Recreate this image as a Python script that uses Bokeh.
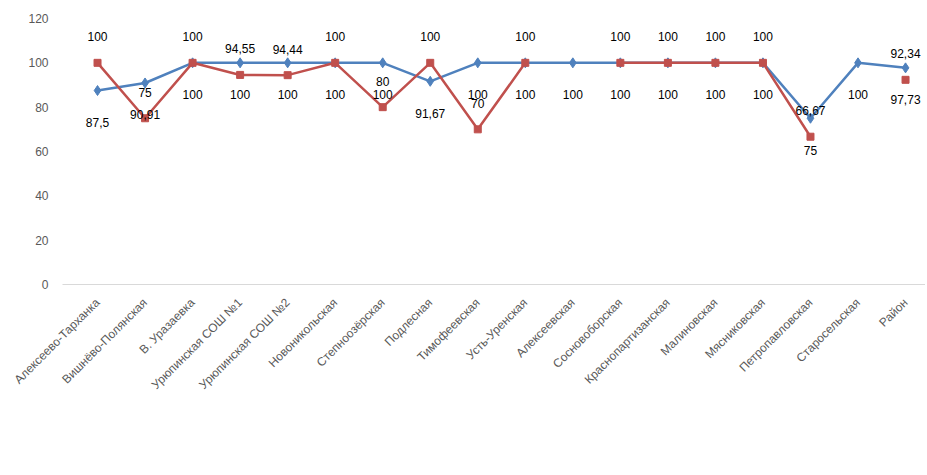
import math
from bokeh.plotting import figure
from bokeh.models import ColumnDataSource, Range1d, FixedTicker, Legend, LegendItem
from bokeh.core.properties import value
from bokeh.embed import file_html
from bokeh.resources import INLINE

categories = [
    "Алексеево-Тарханка", "Вишнёво-Полянская", "В. Уразаевка",
    "Урюпинская СОШ №1", "Урюпинская СОШ №2", "Новоникольская",
    "Степноозёрская", "Подлесная", "Тимофеевская", "Усть-Уренская",
    "Алексеевская", "Сосновоборская", "Краснопартизанская", "Малиновская",
    "Мясниковская", "Петропавловская", "Старосельская", "Район",
]
series_names = ["2019", "2021"]
values_2019 = [87.5, 90.91, 100, 100, 100, 100, 100, 91.67, 100, 100,
               100, 100, 100, 100, 100, 75, 100, 97.73]
values_2021 = [100, 75, 100, 94.55, 94.44, 100, 80, 100, 70, 100,
               None, 100, 100, 100, 100, 66.67, None, 92.34]
y_ticks = [0, 20, 40, 60, 80, 100, 120]

BLUE = "#4F81BD"
RED = "#C0504D"
FONT = "Liberation Sans"


def fmt(v):
    s = f"{v:.2f}".rstrip("0").rstrip(".")
    return s.replace(".", ",")


xs = list(range(1, len(categories) + 1))
y19 = [float("nan") if v is None else v for v in values_2019]
y21 = [float("nan") if v is None else v for v in values_2021]

p = figure(frame_width=863, frame_height=266, output_backend="svg",
           toolbar_location=None,
           x_range=Range1d(0.263, 18.42), y_range=Range1d(0, 120),
           min_border_left=62, min_border_right=0, min_border_top=18,
           min_border_bottom=0)
p.outline_line_color = None
p.xgrid.grid_line_color = None
p.ygrid.grid_line_color = None

src19 = ColumnDataSource(dict(x=xs, y=y19))
src21 = ColumnDataSource(dict(x=xs, y=y21))

l19 = p.line("x", "y", source=src19, line_color=BLUE, line_width=2.5)
s19 = p.scatter("x", "y", source=src19, marker="diamond", size=10,
                fill_color=BLUE, line_color=BLUE)
l21 = p.line("x", "y", source=src21, line_color=RED, line_width=2.5)
s21 = p.scatter("x", "y", source=src21, marker="square", size=7,
                fill_color=RED, line_color=RED)

# data labels: 2019 below, 2021 above
lab19 = ColumnDataSource(dict(
    x=[x for x, v in zip(xs, values_2019) if v is not None],
    y=[v for v in values_2019 if v is not None],
    t=[fmt(v) for v in values_2019 if v is not None]))
lab21 = ColumnDataSource(dict(
    x=[x for x, v in zip(xs, values_2021) if v is not None],
    y=[v for v in values_2021 if v is not None],
    t=[fmt(v) for v in values_2021 if v is not None]))
p.text("x", "y", text="t", source=lab19, text_align="center",
       text_baseline="middle", y_offset=32, text_font=value(FONT),
       text_font_size="12px", text_color="#000000")
p.text("x", "y", text="t", source=lab21, text_align="center",
       text_baseline="middle", y_offset=-26, text_font=value(FONT),
       text_font_size="12px", text_color="#000000")

# axes
p.xaxis.ticker = FixedTicker(ticks=xs)
p.xaxis.major_label_overrides = {x: c for x, c in zip(xs, categories)}
p.xaxis.major_label_orientation = math.pi / 4
p.xaxis.axis_line_color = "#D9D9D9"
p.xaxis.major_tick_line_color = None
p.xaxis.minor_tick_line_color = None
p.xaxis.major_label_text_font = FONT
p.xaxis.major_label_text_font_size = "12px"
p.xaxis.major_label_text_color = "#595959"
p.xaxis.major_label_standoff = 10

p.yaxis.ticker = FixedTicker(ticks=y_ticks)
p.yaxis.axis_line_color = None
p.yaxis.major_tick_line_color = None
p.yaxis.minor_tick_line_color = None
p.yaxis.major_label_text_font = FONT
p.yaxis.major_label_text_font_size = "12px"
p.yaxis.major_label_text_color = "#595959"
p.yaxis.major_label_standoff = 8

legend = Legend(items=[
    LegendItem(label=series_names[0], renderers=[l19, s19]),
    LegendItem(label=series_names[1], renderers=[l21, s21]),
], orientation="horizontal", location="center")
legend.border_line_color = None
legend.background_fill_alpha = 0
legend.label_text_font = FONT
legend.label_text_font_size = "12px"
legend.label_text_color = "#595959"
legend.glyph_width = 40
legend.spacing = 14
legend.padding = 2
legend.margin = 40
p.add_layout(legend, "below")

open("out.html", "w").write(file_html(p, INLINE))
